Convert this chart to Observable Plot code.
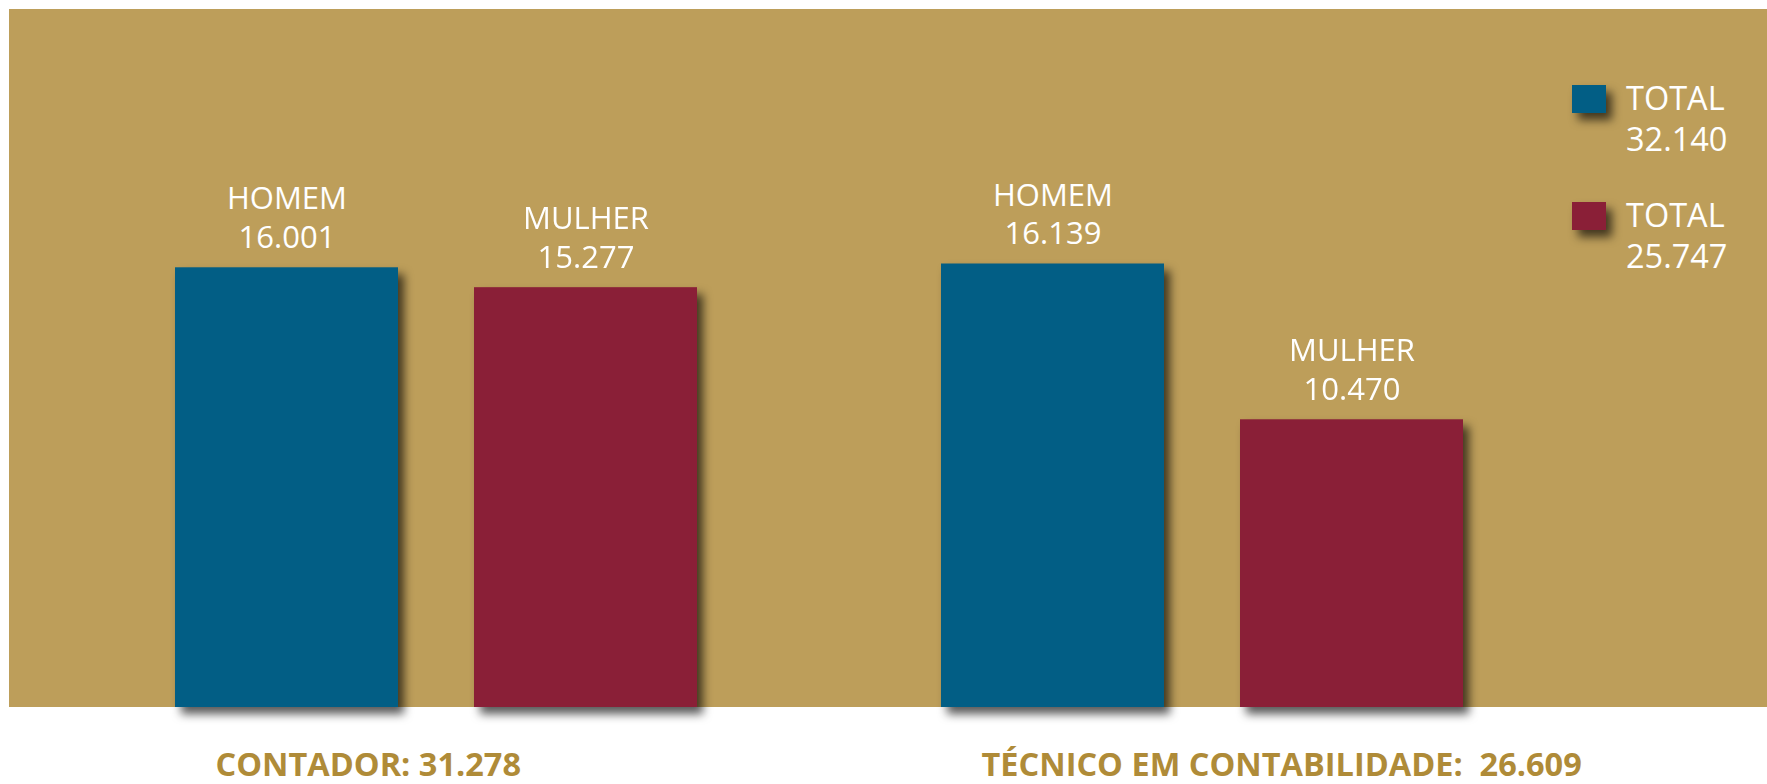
<!DOCTYPE html>
<html><head><meta charset="utf-8">
<script src="https://cdn.jsdelivr.net/npm/d3@7"></script>
<script src="https://cdn.jsdelivr.net/npm/@observablehq/plot@0.6"></script>
<style>
html,body{margin:0;padding:0;background:#fff;}
#chart{position:relative;width:1767px;height:784px;overflow:hidden;}
</style></head><body><div id="chart"></div>
<script>
// ---- data ----
const groups = ["CONTADOR", "TÉCNICO EM CONTABILIDADE"];
const sexes = ["HOMEM", "MULHER"];
const contadorValues = [16001, 15277];
const tecnicoValues = [16139, 10470];
const captionPrefixes = ["CONTADOR: ", "TÉCNICO EM CONTABILIDADE:\u00a0 "];
const legendLabel = "TOTAL";

// ---- style ----
const colors = ["#025E85", "#8A1F37"];
const gold = "#BD9E5A";
const captionColor = "#AF8B38";
const font = "'Open Sans', 'DejaVu Sans', sans-serif";
const shadow = "drop-shadow(6px 7px 5px rgba(0,0,0,0.65))";
const yMax = 25400;

const fmt = d3.formatLocale({decimal: ",", thousands: ".", grouping: [3], currency: ["R$", ""]}).format(",d");

const seriesByGroup = [contadorValues, tecnicoValues];
const rows = [];
groups.forEach((g, i) => sexes.forEach((s, j) => rows.push({group: g, sex: s, value: seriesByGroup[i][j]})));
const captions = groups.map((g, i) => ({group: g, label: captionPrefixes[i] + fmt(d3.sum(seriesByGroup[i]))}));
const sexTotals = sexes.map((s, j) => d3.sum(seriesByGroup, v => v[j]));

const plot = Plot.plot({
  width: 1767, height: 784,
  marginLeft: 90, marginRight: 220, marginTop: 9, marginBottom: 77,
  style: {background: "transparent", fontFamily: font, overflow: "visible"},
  fx: {domain: groups, paddingInner: 0.1, paddingOuter: 0, axis: null, label: null},
  x: {domain: sexes, paddingInner: 0.2546, paddingOuter: 0.2759, axis: null, label: null},
  y: {domain: [0, yMax], axis: null},
  color: {domain: sexes, range: colors},
  marks: [
    Plot.barY(rows, {fx: "group", x: "sex", y: "value", fill: "sex"}),
    Plot.text(rows, {fx: "group", x: "sex", y: "value", text: d => `${d.sex}\n${fmt(d.value)}`,
      lineAnchor: "bottom", dy: -20, fill: "white", fontSize: 31, lineHeight: 1.24}),
    Plot.text(captions, {fx: "group", text: "label", frameAnchor: "bottom-left", textAnchor: "start",
      lineAnchor: "bottom", dx: 124, dy: 68, fill: captionColor, fontSize: 32.5, fontWeight: "bold"})
  ]
});

const svg = d3.select(plot);
svg.insert("rect", ":first-child")
  .attr("x", 9).attr("y", 9).attr("width", 1758).attr("height", 698).attr("fill", gold);
svg.selectAll('g[aria-label="bar"]').style("filter", shadow);

const lg = svg.append("g").attr("font-family", font).attr("font-size", 32.5)
  .attr("fill", "white").attr("text-anchor", "start");
sexes.forEach((s, i) => {
  const y0 = 85 + i * 117;
  lg.append("rect").attr("x", 1572).attr("y", y0).attr("width", 34).attr("height", 28)
    .attr("fill", colors[i]).style("filter", shadow);
  lg.append("text").attr("x", 1626).attr("y", y0 + 25).attr("text-anchor", "start").text(legendLabel);
  lg.append("text").attr("x", 1626).attr("y", y0 + 66).attr("text-anchor", "start").text(fmt(sexTotals[i]));
});

document.getElementById("chart").appendChild(plot);
</script></body></html>
